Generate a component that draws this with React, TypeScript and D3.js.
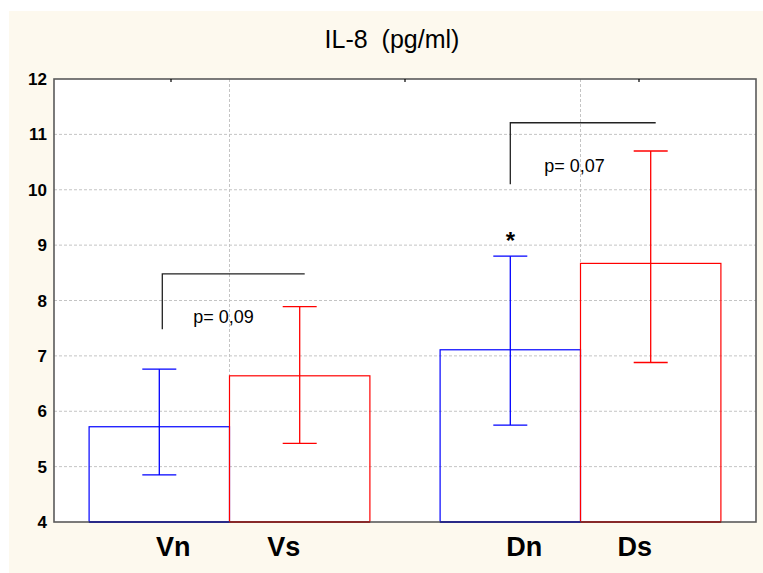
import * as d3 from 'd3'

// groups and bars
const groups = ['V', 'D']
const subgroups = ['n', 's']
const barLabels = ['Vn', 'Vs', 'Dn', 'Ds']
const means = [5.72, 6.64, 7.11, 8.67]
const lower = [4.85, 5.42, 5.75, 6.88]
const upper = [6.76, 7.89, 8.8, 10.7]

// comparison brackets
const bracketGroups = ['V', 'D']
const bracketTop = [8.48, 11.21]
const bracketBottom = [7.48, 10.1]
const bracketText = ['p= 0,09', 'p= 0,07']

const yTicks = [4, 5, 6, 7, 8, 9, 10, 11, 12]
const starBar = 'Dn'
const title = 'IL-8\u00a0 (pg/ml)'

const W = 763
const H = 573
const margin = { top: 79, right: 7, bottom: 51, left: 54 }

const App = () => {
	const x0 = margin.left
	const x1 = W - margin.right
	const y0 = H - margin.bottom
	const y1 = margin.top

	const y = d3.scaleLinear().domain([4, 12]).range([y0, y1])

	const xGroup = d3
		.scaleBand()
		.domain(groups)
		.range([x0, x1])
		.paddingInner(0.2)
		.paddingOuter(0.1)

	const xSub = d3.scaleBand().domain(subgroups).range([0, xGroup.bandwidth()])

	const bars = barLabels.map((label, i) => {
		const g = label[0]
		const s = label[1]
		return {
			label,
			g,
			s,
			x: xGroup(g) + xSub(s),
			cx: xGroup(g) + xSub(s) + xSub.bandwidth() / 2,
			mean: means[i],
			lo: lower[i],
			hi: upper[i],
			color: s === 'n' ? '#0000ff' : '#ff0000',
		}
	})

	// top axis ticks (3 even divisions of the frame)
	const xTick = d3.scaleLinear().domain([0, 3]).range([x0, x1])
	const topTicks = [0.5, 1.5, 2.5]

	const capW = 34
	const font = 'Arial, "Liberation Sans", sans-serif'

	return (
		<div style={{ position: 'fixed', left: 0, top: 0 }}>
			<svg width={W} height={H} style={{ display: 'block' }}>
				<rect x={0} y={0} width={W} height={H} fill="#ffffff" />
				<rect x={9} y={11} width={W - 9} height={H - 11} fill="#fdf9ee" />
				<rect x={x0} y={y1} width={x1 - x0} height={y0 - y1} fill="#ffffff" />

				{/* Title */}
				<text
					x={392}
					y={48}
					textAnchor="middle"
					fontFamily={font}
					fontSize={25}
					fill="#000"
				>
					{title}
				</text>

				{/* Grid */}
				{yTicks.slice(1, -1).map((t) => (
					<line
						key={'gy' + t}
						x1={x0}
						x2={x1}
						y1={y(t)}
						y2={y(t)}
						stroke="#c4c4c4"
						strokeDasharray="3,2"
					/>
				))}
				{groups.map((g) => (
					<line
						key={'gx' + g}
						x1={xGroup(g) + xGroup.bandwidth() / 2}
						x2={xGroup(g) + xGroup.bandwidth() / 2}
						y1={y1}
						y2={y0}
						stroke="#c4c4c4"
						strokeDasharray="3,2"
					/>
				))}

				{/* Bars */}
				{bars.map((b) => (
					<rect
						key={b.label}
						x={b.x}
						y={y(b.mean)}
						width={xSub.bandwidth()}
						height={y0 - y(b.mean)}
						fill="none"
						stroke={b.color}
						strokeWidth={1.2}
					/>
				))}

				{/* Error bars */}
				{bars.map((b) => (
					<g key={'e' + b.label} stroke={b.color} strokeWidth={1.3}>
						<line x1={b.cx} x2={b.cx} y1={y(b.hi)} y2={y(b.lo)} />
						<line x1={b.cx - capW / 2} x2={b.cx + capW / 2} y1={y(b.hi)} y2={y(b.hi)} />
						<line x1={b.cx - capW / 2} x2={b.cx + capW / 2} y1={y(b.lo)} y2={y(b.lo)} />
					</g>
				))}

				{/* Frame */}
				<rect
					x={x0}
					y={y1}
					width={x1 - x0}
					height={y0 - y1}
					fill="none"
					stroke="#5a5a5a"
					strokeWidth={1.6}
				/>
				{topTicks.map((t) => (
					<line
						key={'tt' + t}
						x1={xTick(t)}
						x2={xTick(t)}
						y1={y1}
						y2={y1 + 3}
						stroke="#000"
						strokeWidth={1.2}
					/>
				))}

				{/* redraw bar bottoms over frame */}
				{bars.map((b) => (
					<line
						key={'bb' + b.label}
						x1={b.x}
						x2={b.x + xSub.bandwidth()}
						y1={y0}
						y2={y0}
						stroke={b.s === 'n' ? '#1a1a8c' : '#8c1a1a'}
						strokeWidth={1.6}
					/>
				))}

				{/* Y tick labels */}
				{yTicks.map((t) => (
					<text
						key={'yl' + t}
						x={x0 - 7}
						y={y(t)}
						dy="0.36em"
						textAnchor="end"
						fontFamily={font}
						fontWeight="bold"
						fontSize={17}
						fill="#000"
					>
						{t}
					</text>
				))}

				{/* X labels */}
				{bars.map((b) => (
					<text
						key={'xl' + b.label}
						x={b.cx + (b.s === 'n' ? 14 : -16)}
						y={556}
						textAnchor="middle"
						fontFamily={font}
						fontWeight="bold"
						fontSize={27}
						fill="#000"
					>
						{b.label}
					</text>
				))}

				{/* Brackets */}
				{bracketGroups.map((g, i) => {
					const left = bars.find((b) => b.g === g && b.s === 'n')
					const right = bars.find((b) => b.g === g && b.s === 's')
					const lx = left.cx + (i === 0 ? 3 : 0)
					const rx = right.cx + 5
					return (
						<g key={'br' + g}>
							<path
								d={`M${lx},${y(bracketBottom[i])}V${y(bracketTop[i])}H${rx}`}
								fill="none"
								stroke="#222"
								strokeWidth={1.3}
							/>
							<text
								x={left.cx + 34}
								y={y(bracketTop[i]) + 49}
								fontFamily={font}
								fontSize={18}
								fill="#000"
							>
								{bracketText[i]}
							</text>
						</g>
					)
				})}

				{/* significance star */}
				{bars
					.filter((b) => b.label === starBar)
					.map((b) => (
						<text
							key="star"
							x={b.cx}
							y={y(b.hi) - 7}
							textAnchor="middle"
							fontFamily={font}
							fontWeight="bold"
							fontSize={24}
							fill="#000"
						>
							*
						</text>
					))}
			</svg>
		</div>
	)
}

export default App
